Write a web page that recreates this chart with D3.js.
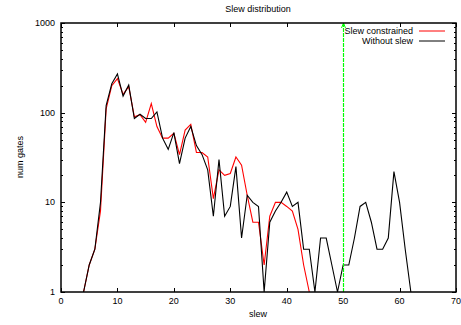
<!DOCTYPE html>
<html>
<head>
<meta charset="utf-8">
<script src="https://cdn.jsdelivr.net/npm/d3@7"></script>
<style>
  body { margin: 0; background: #fff; }
  text { font-family: "Liberation Sans", Arial, sans-serif; font-size: 9px; fill: #000; }
</style>
</head>
<body>
<svg id="chart" width="461" height="325"></svg>
<script>
// slew values (x) and gate counts per series
var slewA = d3.range(4, 45);   // Slew constrained: 4..44
var constrained = [1, 2, 3, 8, 110, 200, 240, 160, 195, 90, 95, 78, 126, 70,
  52, 52, 59, 34, 64, 74, 36, 36, 32, 11, 23, 20, 21, 32, 26, 12, 6, 6, 2, 7,
  10, 10, 9, 8, 5, 2, 1];
var slewB = d3.range(4, 63);   // Without slew: 4..62
var without = [1, 2, 3, 10, 120, 210, 270, 153, 203, 86, 96, 86, 86, 102,
  52, 39, 60, 27, 52, 70, 43, 34, 23, 7, 30, 7, 9, 25, 4, 12, 10, 9, 1, 6,
  8, 10, 13, 9, 10, 3, 3, 1, 4, 4, 2, 1, 2, 2, 4, 9, 10, 6, 3, 3, 4, 22, 10, 3, 1];
var limitSlew = 50;
var xTicks = [0, 10, 20, 30, 40, 50, 60, 70];
var yTicks = [1, 10, 100, 1000];
var seriesNames = ["Slew constrained", "Without slew"];
var seriesColors = ["#ff0000", "#000000"];

var svg = d3.select("#chart");
var mLeft = 61, mRight = 456, mTop = 23, mBottom = 292;

var x = d3.scaleLinear().domain([0, 70]).range([mLeft, mRight]);
var y = d3.scaleLog().domain([1, 1000]).range([mBottom, mTop]);

// minor ticks for log axis
var minor = [];
for (var d = 1; d < 1000; d *= 10) {
  for (var k = 2; k <= 9; k++) minor.push(d * k);
}

// title and axis labels
svg.append("text").attr("x", 258).attr("y", 12).attr("text-anchor", "middle").text("Slew distribution");
svg.append("text").attr("x", 258).attr("y", 317).attr("text-anchor", "middle").text("slew");
svg.append("text").attr("transform", "translate(23,157) rotate(-90)")
  .attr("text-anchor", "middle").text("num gates");

// x ticks, bottom and top (inward)
var ax = svg.append("g").attr("stroke", "#000").attr("stroke-width", 1);
xTicks.forEach(function(t) {
  var px = Math.round(x(t)) + 0.5;
  ax.append("line").attr("x1", px).attr("x2", px).attr("y1", mBottom).attr("y2", mBottom - 4);
  ax.append("line").attr("x1", px).attr("x2", px).attr("y1", mTop).attr("y2", mTop + 4);
});
yTicks.forEach(function(t) {
  var py = Math.round(y(t)) + 0.5;
  ax.append("line").attr("x1", mLeft).attr("x2", mLeft + 4).attr("y1", py).attr("y2", py);
  ax.append("line").attr("x1", mRight).attr("x2", mRight - 4).attr("y1", py).attr("y2", py);
});
minor.forEach(function(t) {
  var py = Math.round(y(t)) + 0.5;
  ax.append("line").attr("x1", mLeft).attr("x2", mLeft + 2).attr("y1", py).attr("y2", py);
  ax.append("line").attr("x1", mRight).attr("x2", mRight - 2).attr("y1", py).attr("y2", py);
});

svg.selectAll(".xlab").data(xTicks).enter().append("text")
  .attr("x", function(d) { return x(d); })
  .attr("y", 304)
  .attr("text-anchor", "middle")
  .text(function(d) { return d; });

svg.selectAll(".ylab").data(yTicks).enter().append("text")
  .attr("x", 55)
  .attr("y", function(d) { return y(d) + 3; })
  .attr("text-anchor", "end")
  .text(function(d) { return d; });

// data lines
var line = d3.line()
  .x(function(d) { return x(d[0]); })
  .y(function(d) { return y(d[1]); });

svg.append("path")
  .datum(d3.zip(slewA, constrained))
  .attr("d", line)
  .attr("fill", "none")
  .attr("stroke", seriesColors[0])
  .attr("stroke-width", 1.1);

svg.append("path")
  .datum(d3.zip(slewB, without))
  .attr("d", line)
  .attr("fill", "none")
  .attr("stroke", seriesColors[1])
  .attr("stroke-width", 1.1);

// green limit arrow
var gx = Math.round(x(limitSlew)) + 0.5;
svg.append("line")
  .attr("x1", gx).attr("x2", gx)
  .attr("y1", y(1)).attr("y2", y(1000) + 1)
  .attr("stroke", "#00ff00")
  .attr("stroke-width", 1.2)
  .attr("stroke-dasharray", "4,1");
svg.append("path")
  .attr("d", "M" + (gx - 2) + "," + (y(1000) + 5) + " L" + gx + "," + y(1000) + " L" + (gx + 2) + "," + (y(1000) + 5))
  .attr("fill", "none")
  .attr("stroke", "#00ff00")
  .attr("stroke-width", 1);

// border
svg.append("rect")
  .attr("x", mLeft).attr("y", mTop)
  .attr("width", mRight - mLeft).attr("height", mBottom - mTop)
  .attr("fill", "none").attr("stroke", "#000").attr("stroke-width", 1.5);

// legend
var leg = svg.append("g");
seriesNames.forEach(function(name, i) {
  var ly = 31 + i * 10;
  leg.append("text").attr("x", 413).attr("y", ly + 3).attr("text-anchor", "end").text(name);
  leg.append("line").attr("x1", 419).attr("x2", 445).attr("y1", ly).attr("y2", ly)
    .attr("stroke", seriesColors[i]).attr("stroke-width", 1);
});
</script>
</body>
</html>
